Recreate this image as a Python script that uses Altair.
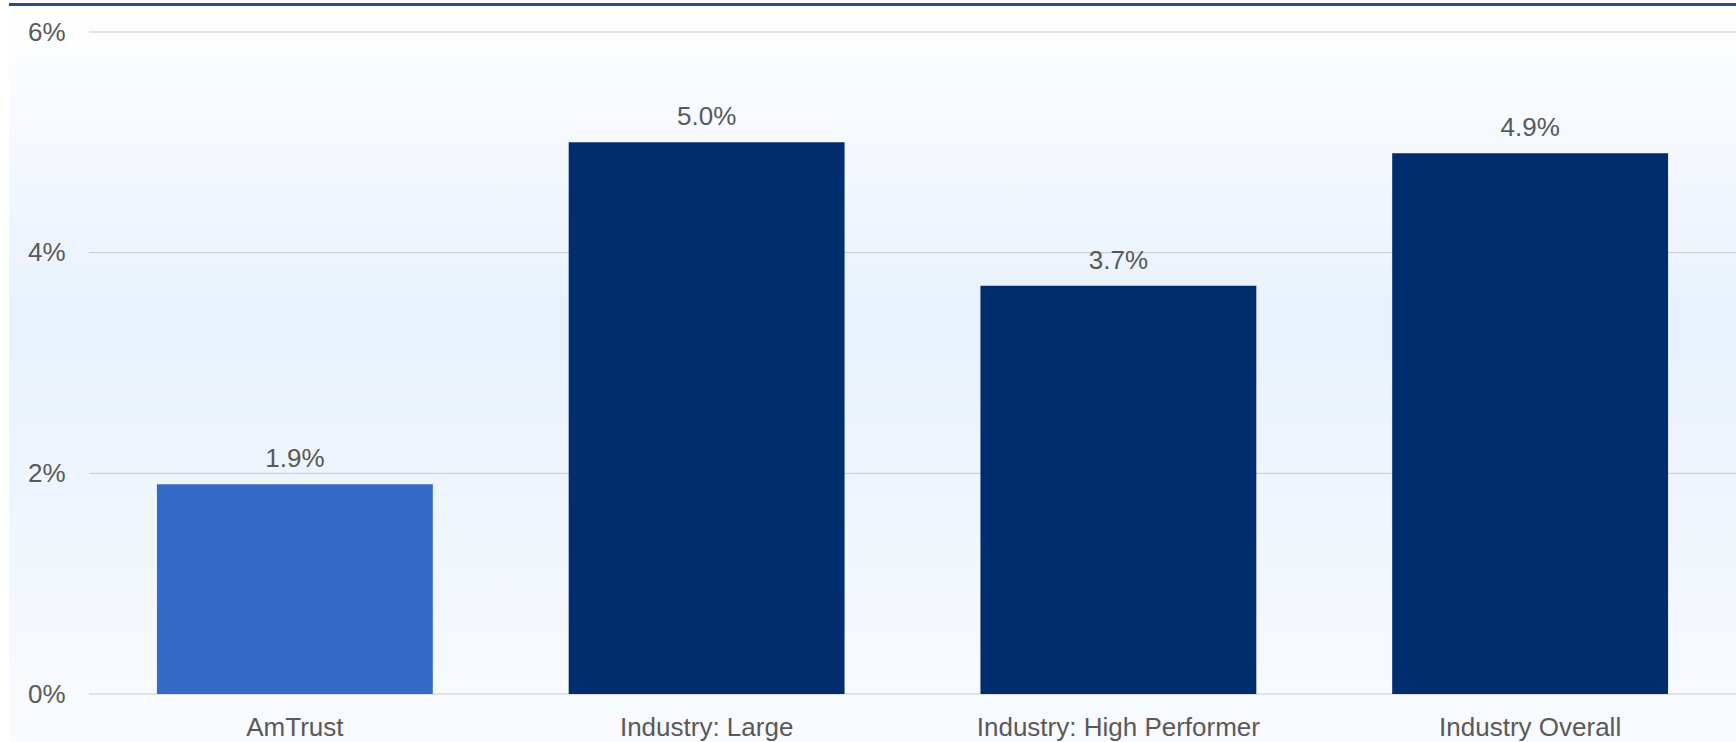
import altair as alt
import pandas as pd

# Chart values
categories = ["AmTrust", "Industry: Large", "Industry: High Performer", "Industry Overall"]
values = [1.9, 5.0, 3.7, 4.9]
groups = ["AmTrust", "Industry", "Industry", "Industry"]
y_ticks = [0, 2, 4, 6]

group_names = ["AmTrust", "Industry"]
group_colors = ["#3469c8", "#002d6e"]

W, H = 1647, 662
FONT = "Liberation Sans"
TEXT = "#595959"

df = pd.DataFrame({
    "category": categories,
    "value": values,
    "group": groups,
    "label": [f"{v:.1f}%" for v in values],
})
grid_df = pd.DataFrame({"tick": y_ticks})

x_enc = alt.X(
    "category:N",
    sort=categories,
    scale=alt.Scale(paddingInner=0.33, paddingOuter=0.165),
    axis=alt.Axis(
        title=None, labelAngle=0, ticks=False, domain=False, grid=False,
        labelFont=FONT, labelFontSize=26, labelColor=TEXT, labelPadding=20,
        labelLimit=0, zindex=1,
    ),
)
y_scale = alt.Scale(domain=[0, 6], nice=False)
y_enc = alt.Y(
    "value:Q",
    scale=y_scale,
    axis=alt.Axis(
        title=None, values=y_ticks, labelExpr="datum.value + '%'",
        ticks=False, domain=False, grid=False,
        labelFont=FONT, labelFontSize=26, labelColor=TEXT, labelPadding=24,
        zindex=1,
    ),
)

# Soft vertical gradient panel behind everything
background = alt.Chart(df).mark_rect(
    color=alt.LinearGradient(
        gradient="linear", x1=0, y1=0, x2=0, y2=1,
        stops=[
            alt.GradientStop(offset=0, color="#ffffff"),
            alt.GradientStop(offset=0.42, color="#e8f1fc"),
            alt.GradientStop(offset=1, color="#f9fbfe"),
        ],
    )
).encode(
    x=alt.value(-80), x2=alt.value(W), y=alt.value(-24), y2=alt.value(H + 48)
)

# Navy rule along the very top
top_rule = alt.Chart(df).mark_rule(color="#2a4a8a", strokeWidth=2.5).encode(
    x=alt.value(-80), x2=alt.value(W), y=alt.value(-27.5)
)

grid = alt.Chart(grid_df).mark_rule(color="#c8c8c8", strokeWidth=1).encode(
    y=alt.Y("tick:Q", scale=y_scale),
    x=alt.value(0), x2=alt.value(W),
)

bars = alt.Chart(df).mark_bar().encode(
    x=x_enc,
    y=y_enc,
    color=alt.Color(
        "group:N",
        scale=alt.Scale(domain=group_names, range=group_colors),
        legend=None,
    ),
)

labels = alt.Chart(df).mark_text(
    font=FONT, fontSize=26, color=TEXT, baseline="alphabetic", dy=-17
).encode(
    x=alt.X("category:N", sort=categories),
    y=alt.Y("value:Q", scale=y_scale),
    text="label:N",
)

chart = alt.layer(background, grid, top_rule, bars, labels).properties(
    width=W,
    height=H,
    autosize=alt.AutoSizeParams(type="none"),
    padding={"left": 89, "top": 32, "right": 0, "bottom": 48},
    background="#ffffff",
).configure_view(stroke=None)

chart.save("out.html", embed_options={"renderer": "svg", "actions": False})
